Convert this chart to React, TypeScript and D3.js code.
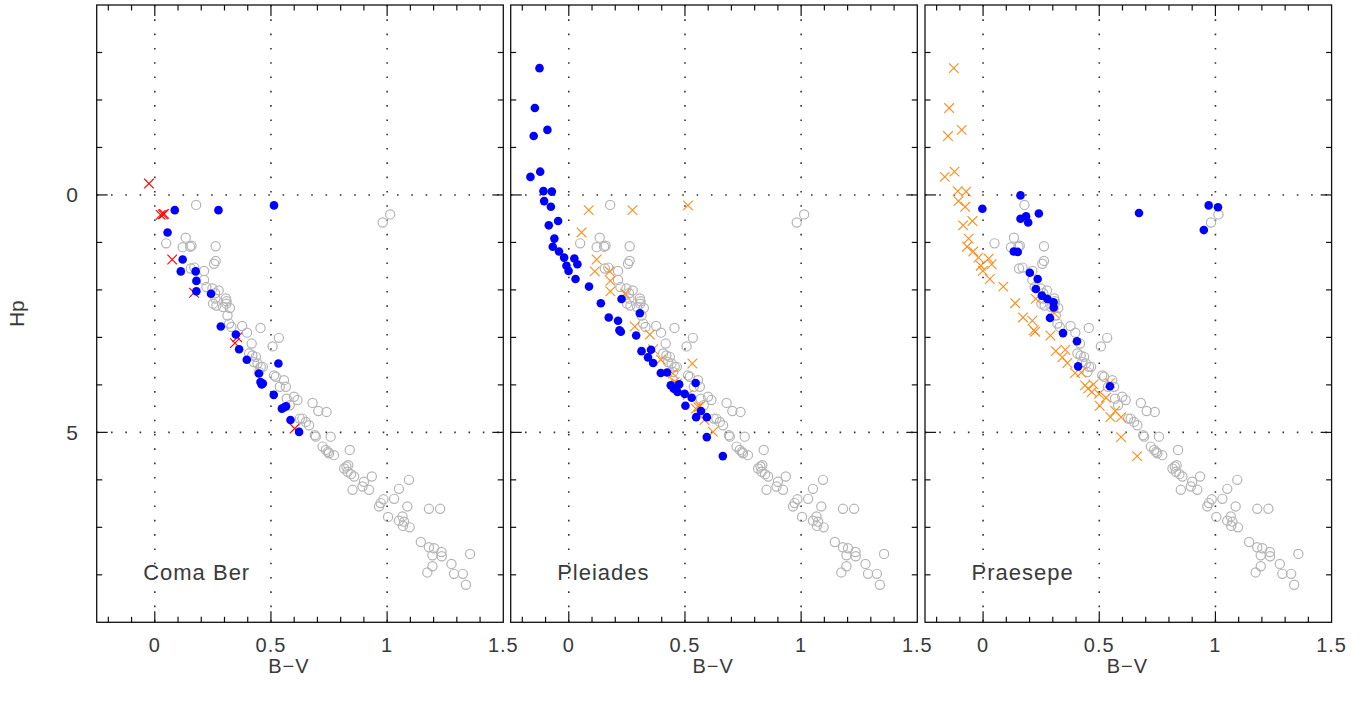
import React, { useEffect } from "react";
import * as d3 from "d3";

// ---------- DATA ----------
// gray open circles: comparison field stars (same in every panel) [B-V, Hp]
const fieldStars: [number, number][] = [
  [0.178,0.21],[1.013,0.41],[0.981,0.58],
  [0.133,0.90],[0.049,1.02],[0.12,1.10],[0.152,1.09],[0.158,1.07],[0.262,1.08],
  [0.262,1.39],[0.255,1.45],[0.155,1.55],[0.17,1.53],[0.212,1.60],[0.212,1.79],
  [0.222,1.94],[0.248,1.97],[0.275,2.01],[0.259,2.07],[0.261,2.18],[0.306,2.18],[0.309,2.24],
  [0.251,2.29],[0.265,2.33],[0.294,2.36],[0.308,2.29],[0.323,2.38],
  [0.313,2.54],[0.32,2.71],[0.33,2.78],[0.376,2.76],[0.455,2.80],[0.397,2.90],
  [0.534,3.01],[0.417,3.13],[0.507,3.19],
  [0.406,3.34],[0.42,3.38],[0.435,3.41],[0.427,3.52],[0.442,3.55],[0.456,3.62],[0.449,3.73],[0.465,3.62],
  [0.513,3.80],[0.521,3.83],[0.556,3.90],[0.564,4.04],[0.538,4.04],[0.599,4.25],[0.614,4.32],[0.568,4.29],[0.581,4.43],
  [0.679,4.38],[0.704,4.55],[0.739,4.57],
  [0.635,4.71],[0.65,4.78],[0.664,4.85],[0.624,4.71],
  [0.693,5.09],[0.757,5.09],[0.689,5.06],[0.722,5.30],[0.736,5.37],[0.75,5.44],[0.771,5.48],[0.745,5.41],[0.839,5.37],
  [0.825,5.72],[0.815,5.76],[0.833,5.69],[0.83,5.83],[0.845,5.88],[0.858,5.93],[0.934,5.93],
  [0.90,6.04],[0.894,6.14],[0.922,6.21],[0.851,6.21],[1.094,6.0],[1.051,6.19],
  [0.984,6.41],[1.03,6.40],[0.972,6.49],[0.965,6.56],[1.087,6.56],[1.004,6.78],
  [1.18,6.61],[1.228,6.61],
  [1.066,6.77],[1.051,6.86],[1.073,6.88],[1.068,6.97],[1.097,7.0],
  [1.145,7.31],[1.18,7.42],[1.202,7.44],[1.234,7.52],[1.195,7.59],[1.235,7.61],[1.357,7.56],
  [1.277,7.77],[1.195,7.82],[1.173,7.95],[1.288,7.98],[1.326,7.98],[1.339,8.21],
];

// Coma Ber members (blue dots)
const comaBer: [number, number][] = [
  [0.086,0.32],[0.274,0.32],[0.513,0.22],[0.055,0.79],[0.120,1.36],[0.112,1.61],[0.176,1.61],
  [0.179,1.81],[0.179,2.03],[0.242,2.08],[0.284,2.77],[0.349,2.94],[0.363,3.25],[0.396,3.47],
  [0.532,3.55],[0.448,3.76],[0.455,3.94],[0.465,3.97],[0.46,3.99],[0.512,4.21],[0.547,4.50],
  [0.558,4.47],[0.565,4.45],[0.584,4.74],[0.621,4.99],
];
// Coma Ber red crosses
const comaCross: [number, number][] = [
  [-0.025,-0.24],[0.025,0.42],[0.035,0.41],[0.04,0.40],[0.075,1.36],[0.169,2.06],
  [0.355,3.0],[0.345,3.12],[0.602,4.92],
];

// Pleiades members (blue dots)
const pleiades: [number, number][] = [
  [-0.126,-2.67],[-0.146,-1.83],[-0.092,-1.37],[-0.151,-1.24],[-0.123,-0.49],[-0.165,-0.38],
  [-0.109,-0.08],[-0.073,-0.07],[-0.106,0.13],[-0.077,0.25],[-0.046,0.55],[-0.086,0.64],
  [-0.062,0.92],[-0.069,1.09],[-0.042,1.19],[-0.020,1.32],[0.024,1.34],[-0.010,1.49],
  [0.037,1.46],[-0.001,1.60],[0.029,1.77],[0.087,1.93],[0.138,2.28],[0.227,2.19],
  [0.306,2.49],[0.172,2.58],[0.212,2.65],[0.224,2.88],[0.218,2.85],[0.290,2.96],
  [0.313,3.29],[0.354,3.26],[0.341,3.42],[0.363,3.54],[0.396,3.75],[0.423,3.74],
  [0.439,4.01],[0.475,3.99],[0.452,4.08],[0.468,4.15],[0.499,4.19],[0.546,3.96],
  [0.529,4.27],[0.502,4.44],[0.569,4.55],[0.548,4.68],[0.594,4.68],[0.594,5.10],[0.663,5.50],
];
// Pleiades panel orange crosses (Coma Ber members overplotted)
const pleiadesCross: [number, number][] = comaBer;

// Praesepe members (blue dots)
const praesepe: [number, number][] = [
  [-0.003,0.29],[0.161,0.01],[0.185,0.45],[0.161,0.50],[0.194,0.58],[0.240,0.39],
  [0.671,0.38],[0.971,0.22],[1.011,0.26],[0.950,0.74],[0.132,1.19],[0.149,1.20],
  [0.201,1.64],[0.235,1.77],[0.227,1.98],[0.253,2.12],[0.277,2.19],[0.303,2.26],
  [0.304,2.37],[0.288,2.59],[0.344,2.91],[0.404,3.08],[0.409,3.61],[0.546,4.03],
];
// Praesepe panel orange crosses (Pleiades members overplotted)
const praesepeCross: [number, number][] = pleiades;

const panelNames = ["Coma Ber", "Pleiades", "Praesepe"];
const xTickLabels = [0, 0.5, 1, 1.5];
const yTickLabels = [0, 5];

const panels = [
  { name: panelNames[0], dots: comaBer, crosses: comaCross, crossColor: "#ff0000", bvAt: 0.577 },
  { name: panelNames[1], dots: pleiades, crosses: pleiadesCross, crossColor: "#ff8c1a", bvAt: 0.621 },
  { name: panelNames[2], dots: praesepe, crosses: praesepeCross, crossColor: "#ff8c1a", bvAt: 0.621 },
];

const W = 1369, H = 704;
const panelLefts = [96.7, 510.7, 925];
const panelW = 406.6;
const top = 5, bottom = 622.3;
const FONT = "'Liberation Sans', Arial, sans-serif";
const TXT = "#3a3a3a";

export default function App() {
  useEffect(() => {
    document.body.style.margin = "0";
  }, []);

  const y = d3.scaleLinear().domain([-4, 9]).range([top, bottom]);
  const minorY = d3.range(-3, 9, 1);
  const minorX = d3.range(-0.2, 1.45, 0.1).map((v) => Math.round(v * 10) / 10);

  return (
    <svg width={W} height={H} style={{ display: "block", background: "#fff" }}>
      {/* y axis label */}
      <text
        x={0} y={0}
        transform={`translate(24,${y(2.5)}) rotate(-90)`}
        textAnchor="middle" fontFamily={FONT} fontSize={21} fill={TXT}
      >Hp</text>
      {yTickLabels.map((t) => (
        <text key={t} x={72} y={y(t)} dy="0.36em" textAnchor="middle"
          fontFamily={FONT} fontSize={21} fill={TXT}>{t}</text>
      ))}
      {panels.map((p, i) => {
        const x0 = panelLefts[i];
        const x = d3.scaleLinear().domain([-0.25, 1.5]).range([x0, x0 + panelW]);
        return (
          <g key={p.name}>
            {/* grid dotted lines */}
            {[0, 0.5, 1].map((v) => (
              <line key={"gx" + v} x1={x(v)} x2={x(v)} y1={top} y2={bottom}
                stroke="#333" strokeWidth={1.6} strokeDasharray="1.6 12.7" />
            ))}
            {[0, 5].map((v) => (
              <line key={"gy" + v} x1={x0} x2={x0 + panelW} y1={y(v)} y2={y(v)}
                stroke="#333" strokeWidth={1.6} strokeDasharray="1.6 12.7" />
            ))}
            {/* field stars */}
            {fieldStars.map((d, j) => (
              <circle key={"f" + j} cx={x(d[0])} cy={y(d[1])} r={4.6}
                fill="none" stroke="#b4b4b4" strokeWidth={1.2} />
            ))}
            {/* crosses */}
            {p.crosses.map((d, j) => {
              const cx = x(d[0]), cy = y(d[1]), s = 4.8;
              return (
                <path key={"c" + j}
                  d={`M${cx - s},${cy - s}L${cx + s},${cy + s}M${cx - s},${cy + s}L${cx + s},${cy - s}`}
                  stroke={p.crossColor} strokeWidth={1.1} fill="none" />
              );
            })}
            {/* member dots */}
            {p.dots.map((d, j) => (
              <circle key={"d" + j} cx={x(d[0])} cy={y(d[1])} r={4.3} fill="#0000ff" />
            ))}
            {/* frame */}
            <rect x={x0} y={top} width={panelW} height={bottom - top}
              fill="none" stroke="#111" strokeWidth={1.3} />
            {/* x ticks top & bottom */}
            {minorX.map((v) => {
              const major = Math.abs(v % 0.5) < 1e-6 || Math.abs((v % 0.5) - 0.5) < 1e-6;
              const len = major ? 11 : 5.5;
              return (
                <g key={"xt" + v}>
                  <line x1={x(v)} x2={x(v)} y1={bottom} y2={bottom - len} stroke="#111" strokeWidth={1.2} />
                  <line x1={x(v)} x2={x(v)} y1={top} y2={top + len} stroke="#111" strokeWidth={1.2} />
                </g>
              );
            })}
            {/* y ticks left & right */}
            {minorY.map((v) => {
              const major = v % 5 === 0;
              const len = major ? 11 : 5.5;
              return (
                <g key={"yt" + v}>
                  <line x1={x0} x2={x0 + len} y1={y(v)} y2={y(v)} stroke="#111" strokeWidth={1.2} />
                  <line x1={x0 + panelW} x2={x0 + panelW - len} y1={y(v)} y2={y(v)} stroke="#111" strokeWidth={1.2} />
                </g>
              );
            })}
            {/* x tick labels */}
            {xTickLabels.map((t) => (
              <text key={"xl" + t} x={x(t)} y={651.5} textAnchor="middle"
                fontFamily={FONT} fontSize={20} fill={TXT} letterSpacing={1}>{t}</text>
            ))}
            <text x={x(p.bvAt)} y={673} textAnchor="middle" fontFamily={FONT} fontSize={20} fill={TXT} letterSpacing={1}>B−V</text>
            <text x={x(-0.05)} y={y(8.1)} fontFamily={FONT} fontSize={22} fill={TXT} letterSpacing={1}>{p.name}</text>
          </g>
        );
      })}
    </svg>
  );
}
